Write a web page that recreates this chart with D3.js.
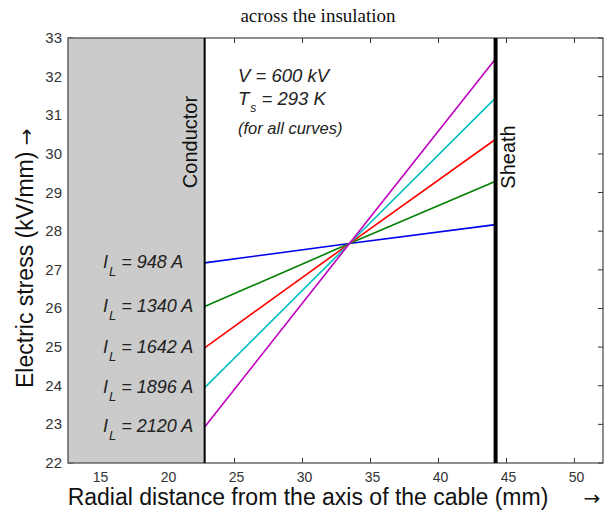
<!DOCTYPE html>
<html><head><meta charset="utf-8">
<script src="https://cdn.jsdelivr.net/npm/d3@7"></script>
<style>body{margin:0;background:#fff}svg{display:block}</style>
</head><body>
<script>
// ---- data ----
const currents = [948, 1340, 1642, 1896, 2120];          // load current I_L (A)
const radius = [22.8, 33.45, 44.2];                      // radial distance (mm)
const stress948  = [27.18, 27.68, 28.17];
const stress1340 = [26.05, 27.68, 29.29];
const stress1642 = [24.98, 27.68, 30.38];
const stress1896 = [23.95, 27.68, 31.45];
const stress2120 = [22.93, 27.68, 32.46];
const seriesValues = [stress948, stress1340, stress1642, stress1896, stress2120];
const seriesColors = ["#0000ee", "#008000", "#ff0000", "#00bfbf", "#bf00bf"];
const conductorRadius = 22.8, sheathRadius = 44.2;
const xTicks = [15, 20, 25, 30, 35, 40, 45, 50];
const yTicks = [22, 23, 24, 25, 26, 27, 28, 29, 30, 31, 32, 33];
const xDomain = [12.75, 52.1], yDomain = [22, 33];

// ---- layout ----
const W = 614, H = 518;
const m = {left: 68, top: 38, right: 603, bottom: 463};
const svg = d3.select("body").append("svg").attr("width", W).attr("height", H);
const x = d3.scaleLinear().domain(xDomain).range([m.left, m.right]);
const y = d3.scaleLinear().domain(yDomain).range([m.bottom, m.top]);
const sans = "'Liberation Sans', Arial, sans-serif";

// title
svg.append("text").attr("x", 318).attr("y", 22).attr("text-anchor", "middle")
  .attr("font-family", "'Liberation Serif', 'Times New Roman', serif").attr("font-size", 19)
  .attr("fill", "#111").text("across the insulation");

// inward ticks on all sides
const tk = 5, tickCol = "#333";
const g = svg.append("g");
xTicks.forEach(v => {
  g.append("line").attr("x1", x(v)).attr("x2", x(v)).attr("y1", m.bottom).attr("y2", m.bottom - tk).attr("stroke", tickCol);
  g.append("line").attr("x1", x(v)).attr("x2", x(v)).attr("y1", m.top).attr("y2", m.top + tk).attr("stroke", tickCol);
});
yTicks.forEach(v => {
  g.append("line").attr("x1", m.left).attr("x2", m.left + tk).attr("y1", y(v)).attr("y2", y(v)).attr("stroke", tickCol);
  g.append("line").attr("x1", m.right).attr("x2", m.right - tk).attr("y1", y(v)).attr("y2", y(v)).attr("stroke", tickCol);
});

// conductor shaded region
svg.append("rect").attr("x", x(xDomain[0])).attr("y", y(yDomain[1]))
  .attr("width", x(conductorRadius) - x(xDomain[0])).attr("height", y(yDomain[0]) - y(yDomain[1]))
  .attr("fill", "#cbcbcb");

// frame
svg.append("rect").attr("x", m.left).attr("y", m.top).attr("width", m.right - m.left)
  .attr("height", m.bottom - m.top).attr("fill", "none").attr("stroke", "#444").attr("stroke-width", 1.2);

// tick labels
svg.append("g").selectAll("text").data(xTicks).join("text")
  .attr("x", d => x(d) + 2).attr("y", 482).attr("text-anchor", "middle")
  .attr("font-family", sans).attr("font-size", 14).attr("fill", "#333").text(d => d);
svg.append("g").selectAll("text").data(yTicks).join("text")
  .attr("x", 62).attr("y", d => y(d) + 5).attr("text-anchor", "end")
  .attr("font-family", sans).attr("font-size", 15).attr("fill", "#333").text(d => d);

// curves
const line = d3.line().x((d, i) => x(radius[i])).y(d => y(d));
seriesValues.forEach((s, i) => {
  svg.append("path").datum(s).attr("d", line).attr("fill", "none")
    .attr("stroke", seriesColors[i]).attr("stroke-width", 1.6);
});

// conductor & sheath boundaries
svg.append("line").attr("x1", x(conductorRadius)).attr("x2", x(conductorRadius))
  .attr("y1", m.top).attr("y2", m.bottom).attr("stroke", "#000").attr("stroke-width", 2);
svg.append("line").attr("x1", x(sheathRadius)).attr("x2", x(sheathRadius))
  .attr("y1", m.top).attr("y2", m.bottom).attr("stroke", "#000").attr("stroke-width", 4);

svg.append("text").attr("transform", `translate(${x(conductorRadius) - 8},142) rotate(-90)`)
  .attr("text-anchor", "middle").attr("font-family", sans).attr("font-size", 20).attr("fill", "#111")
  .text("Conductor");
svg.append("text").attr("transform", `translate(${x(sheathRadius) + 19},157) rotate(-90)`)
  .attr("text-anchor", "middle").attr("font-family", sans).attr("font-size", 20).attr("fill", "#111")
  .text("Sheath");

// current labels
currents.forEach((c, i) => {
  const by = y(seriesValues[i][0]) + 5;
  const t = svg.append("text").attr("x", 103).attr("y", by)
    .attr("font-family", sans).attr("font-size", 18).attr("font-style", "italic").attr("fill", "#222");
  t.append("tspan").text("I");
  t.append("tspan").attr("dy", 8).attr("dx", 1).attr("font-size", 13).text("L");
  t.append("tspan").attr("dy", -8).text(` = ${c} A`);
});

// annotation
const ann = svg.append("g").attr("font-family", sans).attr("font-style", "italic").attr("fill", "#222");
ann.append("text").attr("x", 238).attr("y", 82).attr("font-size", 18.5).text("V = 600 kV");
const ts = ann.append("text").attr("x", 238).attr("y", 105).attr("font-size", 18.5);
ts.append("tspan").text("T");
ts.append("tspan").attr("dy", 7).attr("dx", 1).attr("font-size", 12).text("s");
ts.append("tspan").attr("dy", -7).text(" = 293 K");
ann.append("text").attr("x", 238).attr("y", 134).attr("font-size", 16.5).text("(for all curves)");

// axis labels
svg.append("text").attr("x", 308).attr("y", 505).attr("text-anchor", "middle")
  .attr("font-family", sans).attr("font-size", 23).attr("fill", "#111")
  .text("Radial distance from the axis of the cable (mm)");
svg.append("text").attr("x", 592).attr("y", 505).attr("text-anchor", "middle")
  .attr("font-family", "'DejaVu Sans', sans-serif").attr("font-size", 20).attr("fill", "#111").text("\u2192");
svg.append("text").attr("transform", `translate(33,${y(27.3)}) rotate(-90)`).attr("text-anchor", "middle")
  .attr("font-family", sans).attr("font-size", 23).attr("fill", "#111")
  .text("Electric stress (kV/mm) ")
  .append("tspan").attr("font-family", "'DejaVu Sans', sans-serif").attr("font-size", 20).text("\u2192");
</script>
</body></html>
